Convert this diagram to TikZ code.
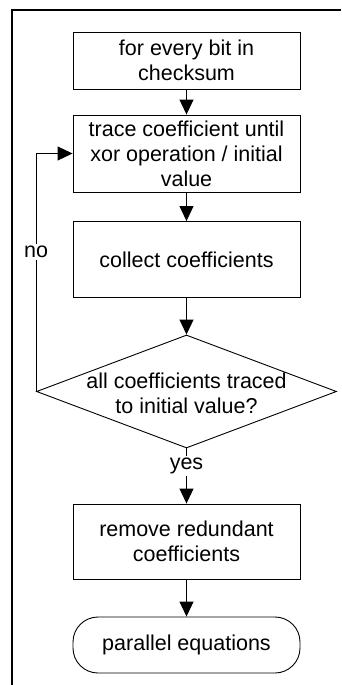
\documentclass[tikz,border=0pt]{standalone}
\usepackage{fontspec}
\setmainfont{Liberation Sans}
\usetikzlibrary{shapes.geometric,arrows.meta}
\begin{document}
\begin{tikzpicture}[x=1pt,y=1pt,
  every node/.style={font=\fontsize{21.5}{25}\selectfont},
  procbox/.style={draw, line width=0.9pt, minimum width=227pt, align=center, inner sep=0pt},
  termbox/.style={draw, line width=0.9pt, minimum width=227pt, minimum height=56pt, rounded corners=25pt, align=center, inner sep=0pt},
  decbox/.style={draw, diamond, line width=0.9pt, minimum width=300pt, minimum height=113pt, inner sep=0pt},
  arr/.style={line width=0.9pt, -{Triangle[length=15pt,width=14pt]}},
  lbl/.style={fill=white, inner sep=2pt}
]
\useasboundingbox (0,0) rectangle (341,-685);
% frame
\draw[line width=2pt] (11.5,-685) -- (11.5,-10.5) -- (341,-10.5);
% nodes
\node[procbox, minimum height=57pt] (b1) at (186.5,-60.5) {for every bit in\\checksum};
\node[procbox, minimum height=77pt] (b2) at (186.5,-153.5) {trace coefficient until\\xor operation / initial\\value};
\node[procbox, minimum height=76pt] (b3) at (186.5,-259.5) {collect coefficients};
\node[decbox] (d) at (186.5,-391.5) {};
\node[align=center] (dt) at (186.5,-393) {all coefficients traced\\to initial value?};
\node[procbox, minimum height=75pt] (b4) at (186.5,-541.5) {remove redundant\\coefficients};
\node[termbox] (t) at (186.5,-645) {parallel equations};
% connectors
\draw[arr] (b1.south) -- (b2.north);
\draw[arr] (b2.south) -- (b3.north);
\draw[arr] (b3.south) -- (d.north);
\draw[arr] (d.south) -- node[lbl, pos=0.32] {yes} (b4.north);
\draw[arr] (b4.south) -- (t.north);
\draw[arr] (d.west) |- node[lbl, pos=0.293] {no} (b2.west);
\end{tikzpicture}
\end{document}
